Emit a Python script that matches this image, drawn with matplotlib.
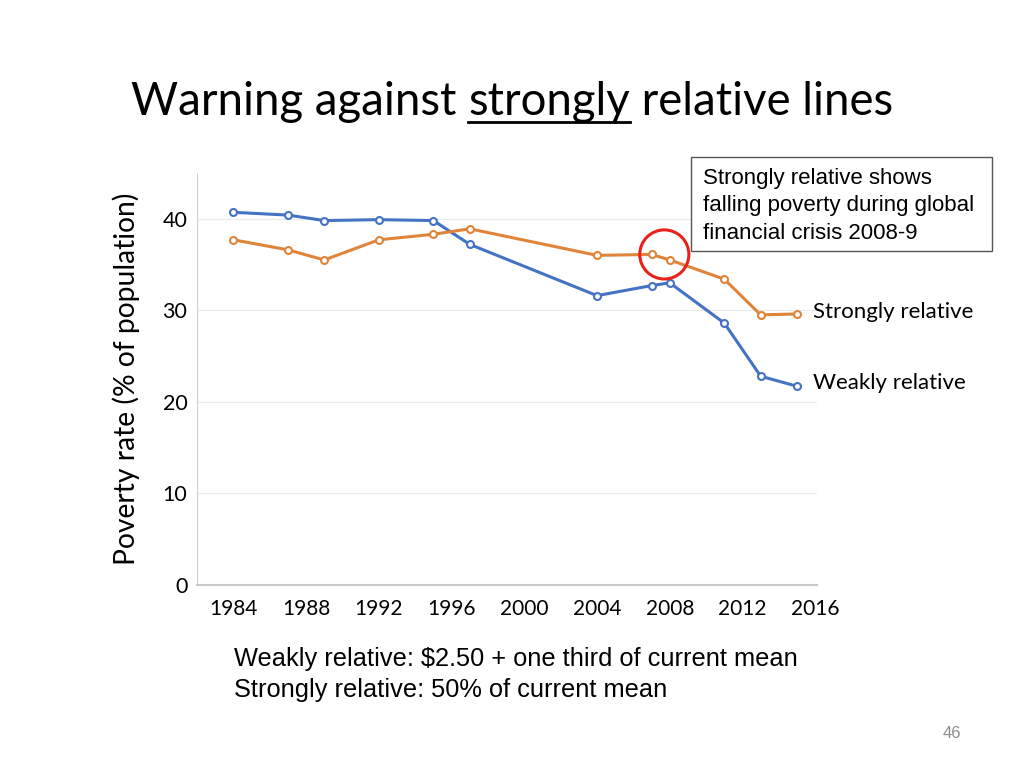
import matplotlib
matplotlib.use('Agg')
import matplotlib.pyplot as plt
from matplotlib.lines import Line2D
from matplotlib.patches import Rectangle

# survey years and poverty rates (% of population)
years = [1984, 1987, 1989, 1992, 1995, 1997, 2004, 2007, 2008, 2011, 2013, 2015]
weakly = [40.7, 40.4, 39.8, 39.9, 39.8, 37.2, 31.6, 32.7, 33.0, 28.6, 22.8, 21.7]
strongly = [37.7, 36.6, 35.5, 37.7, 38.3, 38.9, 36.0, 36.1, 35.5, 33.4, 29.5, 29.6]
xticks = [1984, 1988, 1992, 1996, 2000, 2004, 2008, 2012, 2016]
yticks = [0, 10, 20, 30, 40]

blue = '#4472C4'
orange = '#E0843A'
cal = 'Lato'
arial = 'Liberation Sans'

fig = plt.figure(figsize=(10.24, 7.68), dpi=100)
ax = fig.add_axes([0.1924, 0.2383, 0.6055, 0.5365])

ax.plot(years, weakly, color=blue, lw=2.2, marker='o', ms=5, mfc='white',
        mec=blue, mew=1.5, zorder=3)
ax.plot(years, strongly, color=orange, lw=2.2, marker='o', ms=5, mfc='white',
        mec=orange, mew=1.5, zorder=3)

ax.set_xlim(1982, 2016.1)
ax.set_ylim(0, 45)
ax.set_xticks(xticks)
ax.set_yticks(yticks)
ax.set_xticklabels([str(t) for t in xticks], fontfamily=cal, fontsize=15)
ax.set_yticklabels([str(t) for t in yticks], fontfamily=cal, fontsize=15.5)
ax.tick_params(axis='x', length=0, pad=10)
ax.tick_params(axis='y', length=0, pad=7)
ax.grid(axis='y', color='#EBEBEB', lw=0.8)
ax.set_axisbelow(True)
for s in ['top', 'right']:
    ax.spines[s].set_visible(False)
ax.spines['left'].set_color('#D0D0D0')
ax.spines['bottom'].set_color('#C8C8C8')
ax.spines['bottom'].set_linewidth(1.5)

ax.set_ylabel('Poverty rate (% of population)', fontfamily=cal, fontsize=20.3,
              labelpad=16)

# series labels
ax.text(years[-1] + 0.9, strongly[-1] + 0.2, 'Strongly relative', fontfamily=cal,
        fontsize=16, va='center', ha='left', clip_on=False)
ax.text(years[-1] + 0.9, weakly[-1] + 0.4, 'Weakly relative', fontfamily=cal,
        fontsize=16, va='center', ha='left', clip_on=False)

# red circle over 2007-2008
ax.scatter([2007.7], [36.1], s=1250, facecolors='none', edgecolors='#E8221B',
           linewidths=2.2, zorder=4)

# callout box
fig.add_artist(Rectangle((691 / 1024, 1 - 251 / 768), 301 / 1024, 94 / 768,
                         transform=fig.transFigure, fc='white', ec='#555555',
                         lw=1, zorder=5))
fig.text(703 / 1024, 1 - 168 / 768,
         'Strongly relative shows\nfalling poverty during global\nfinancial crisis 2008-9',
         fontfamily=arial, fontsize=16, va='top', ha='left', linespacing=1.4,
         zorder=6)

# title with underlined word
renderer = fig.canvas.get_renderer()
tx, ty = 131 / 1024, 1 - 115 / 768
parts = ['Warning against ', 'strongly', ' relative lines']
x = tx
for i, p in enumerate(parts):
    t = fig.text(x, ty, p, fontfamily=cal, fontsize=32.8, va='baseline', ha='left')
    w = t.get_window_extent(renderer).width / 1024
    if i == 1:
        fig.add_artist(Line2D([x, x + w], [1 - 122 / 768] * 2, color='black',
                              lw=2, transform=fig.transFigure))
    x += w

fig.text(234 / 1024, 1 - 666 / 768,
         'Weakly relative: $2.50 + one third of current mean',
         fontfamily=arial, fontsize=18.3, va='baseline', ha='left')
fig.text(234 / 1024, 1 - 697 / 768, 'Strongly relative: 50% of current mean',
         fontfamily=arial, fontsize=18.3, va='baseline', ha='left')
fig.text(952 / 1024, 1 - 734 / 768, '46', fontfamily=arial, fontsize=12,
         color='#8C8C8C', va='center', ha='center')

fig.savefig('out.png', dpi=100)
